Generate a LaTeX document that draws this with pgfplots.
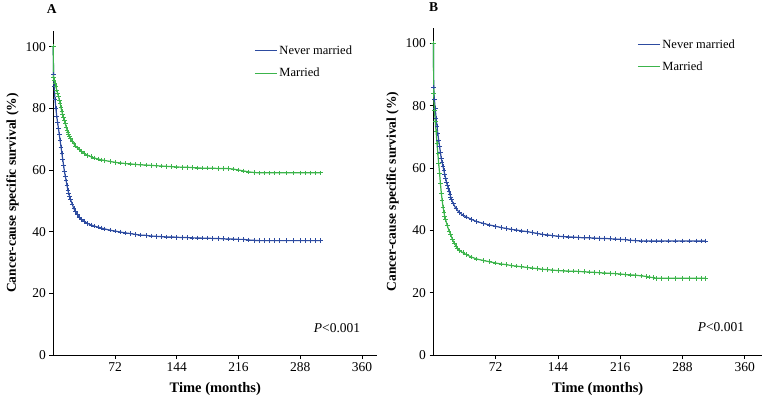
\documentclass[border=0pt]{standalone}
\usepackage{fontspec}
\setmainfont{Liberation Serif}
\usepackage{pgfplots}
\pgfplotsset{compat=1.18}
\definecolor{nmblue}{RGB}{45,75,160}
\definecolor{mgreen}{RGB}{60,180,75}
\pgfplotsset{km/.style={
  scale only axis, axis lines=left, axis line style={-,line width=0.8pt},
  xmin=0, ymin=0, ymax=105,
  xtick={72,144,216,288,360}, ytick={0,20,40,60,80,100},
  tick align=outside, tick style={black, line width=0.7pt}, major tick length=4pt,
  ticklabel style={font=\fontsize{13.5}{15}\selectfont},
  /pgf/number format/assume math mode=true,
  xlabel={\textbf{Time (months)}},
  ylabel={\textbf{Cancer-cause specific survival (\%)}},
  xlabel style={font=\fontsize{14.5}{16}\selectfont, yshift=-4pt},
  ylabel style={font=\fontsize{13.5}{15}\selectfont},
  legend style={draw=none, fill=none, font=\fontsize{12.5}{14}\selectfont, anchor=north west, row sep=8pt, inner sep=0pt},
  legend cell align=left,
  legend image code/.code={\draw[#1, line width=1.1pt] (0pt,0pt) -- (22pt,0pt);},
  clip=false,
  every axis plot/.append style={line width=1.2pt, mark=+, mark size=2.3pt, mark options={line width=0.7pt}},
}}
\begin{document}
\begin{tikzpicture}
\useasboundingbox (0,0) rectangle (782pt,405pt);
% ---------------- Panel A ----------------
\begin{axis}[km, at={(53.3pt,50pt)}, anchor=south west, width=324pt, height=323.7pt, xmax=378,
  legend style={at={(rel axis cs:0.62,0.962)}}]
\addplot[nmblue] coordinates {
(0,100)(0.2,91)(1,87)(2,83)(3,80)(4,77.5)(5,75.5)(6,73.5)(7,71.5)(8,69.5)(9,67.5)(10,65.5)(11,63.5)(12,61.5)(13,59.5)(14,58)(15,56.5)(16,55)(17,53.5)(18,52.5)(19,51.5)(20,50.5)(22,49)(24,47.5)(26,46.5)(28,45.6)(30,44.8)(33,44)(36,43.3)(40,42.7)(44,42.2)(48,41.8)(52,41.5)(56,41.2)(60,40.9)(66,40.5)(72,40.2)(78,39.9)(84,39.6)(90,39.4)(96,39.1)(102,38.9)(108,38.8)(114,38.6)(120,38.5)(126,38.4)(132,38.3)(138,38.3)(144,38.2)(150,38.1)(156,38.1)(162,38.0)(168,38.0)(174,37.9)(180,37.9)(186,37.8)(192,37.8)(198,37.7)(204,37.6)(210,37.6)(216,37.5)(222,37.5)(228,37.3)(234,37.2)(240,37.1)(246,37.1)(252,37.1)(258,37.1)(264,37.1)(272,37.1)(280,37.1)(288,37.1)(294,37.1)(300,37.1)(306,37.1)(312,37.1)
};
\addlegendentry{Never married}
\addplot[mgreen] coordinates {
(0,100)(0.2,90)(1,89)(2,88)(3,87)(4,86)(5,85)(6,84)(7,82.7)(8,81.5)(9,80.2)(10,79)(11,78)(12,77)(13,76)(14,75)(15,74)(16,73)(17,72.2)(18,71.5)(19,70.9)(20,70.3)(22,69.3)(24,68.5)(26,67.8)(28,67.2)(30,66.7)(33,66)(36,65.4)(40,64.8)(44,64.3)(48,63.9)(52,63.6)(56,63.3)(60,63.1)(66,62.8)(72,62.5)(78,62.3)(84,62.1)(90,62)(96,61.8)(102,61.7)(108,61.6)(114,61.5)(120,61.4)(126,61.3)(132,61.2)(138,61.1)(144,61.0)(150,60.9)(156,60.9)(162,60.8)(168,60.7)(174,60.6)(180,60.6)(186,60.6)(192,60.5)(198,60.5)(204,60.5)(210,60.3)(216,60.0)(222,59.7)(228,59.4)(234,59.2)(240,59.1)(246,59.1)(252,59.1)(258,59.1)(264,59.1)(272,59.1)(280,59.1)(288,59.1)(294,59.1)(300,59.1)(306,59.1)(312,59.1)
};
\addlegendentry{Married}
\node[font=\bfseries\fontsize{13.5}{15}\selectfont] at (rel axis cs:-0.005,1.07) {A};
\node[font=\fontsize{13.5}{15}\selectfont] at (axis cs:331,8.8) {\textit{P}<0.001};
\end{axis}
% ---------------- Panel B ----------------
\begin{axis}[km, at={(433.5pt,50pt)}, anchor=south west, width=328.5pt, height=327.3pt, xmax=380,
  legend style={at={(rel axis cs:0.62,0.971)}}]
\addplot[nmblue] coordinates {
(0,100)(0.2,86)(1,82)(2,79)(3,76)(4,73.5)(5,71)(6,69)(7,67)(8,65)(9,63)(10,61.7)(11,60.5)(12,59.2)(13,58)(14,56.7)(15,55.5)(16,54.5)(17,53.5)(18,52.5)(19,51.5)(20,50.6)(21,49.8)(23,48.5)(26,47)(30,45.7)(34,44.9)(38,44.3)(44,43.5)(50,42.8)(58,42.2)(65,41.7)(72,41.3)(78,40.9)(84,40.6)(90,40.3)(96,40.1)(102,39.8)(108,39.6)(114,39.3)(120,39.0)(126,38.7)(132,38.5)(138,38.3)(144,38.1)(150,38.0)(156,37.9)(162,37.8)(168,37.7)(174,37.6)(180,37.6)(186,37.5)(192,37.4)(198,37.4)(204,37.3)(210,37.2)(216,37.1)(222,37.0)(228,36.8)(234,36.7)(240,36.6)(246,36.6)(252,36.6)(258,36.6)(264,36.6)(272,36.6)(280,36.6)(288,36.6)(296,36.6)(304,36.6)(310,36.6)(315,36.6)
};
\addlegendentry{Never married}
\addplot[mgreen] coordinates {
(0,100)(0.2,84)(1,78.6)(2,75)(3,71.7)(4,68)(5,64.8)(6,61.5)(7,58.4)(8,55)(9,52)(10,49.7)(11,47.5)(12,45.9)(13,44.5)(14,43.4)(16,41.5)(18,39.8)(20,38.6)(22,37)(24,35.9)(26,34.9)(28,34.2)(30,33.6)(34,32.8)(38,32.2)(44,31.4)(50,30.8)(58,30.3)(65,29.9)(72,29.5)(78,29.2)(84,29.0)(90,28.7)(96,28.5)(102,28.3)(108,28.1)(114,27.9)(120,27.7)(126,27.5)(132,27.4)(138,27.2)(144,27.1)(150,27.0)(156,26.9)(162,26.9)(168,26.8)(174,26.7)(180,26.6)(186,26.5)(192,26.4)(198,26.3)(204,26.2)(210,26.1)(216,26.0)(222,25.8)(228,25.7)(234,25.6)(240,25.4)(246,25.2)(250,25.0)(254,24.8)(258,24.6)(264,24.6)(272,24.6)(280,24.6)(288,24.6)(296,24.6)(304,24.6)(310,24.6)(315,24.6)
};
\addlegendentry{Married}
\node[font=\bfseries\fontsize{13.5}{15}\selectfont] at (rel axis cs:0,1.063) {B};
\node[font=\fontsize{13.5}{15}\selectfont] at (axis cs:332.5,9) {\textit{P}<0.001};
\end{axis}
\end{tikzpicture}
\end{document}
